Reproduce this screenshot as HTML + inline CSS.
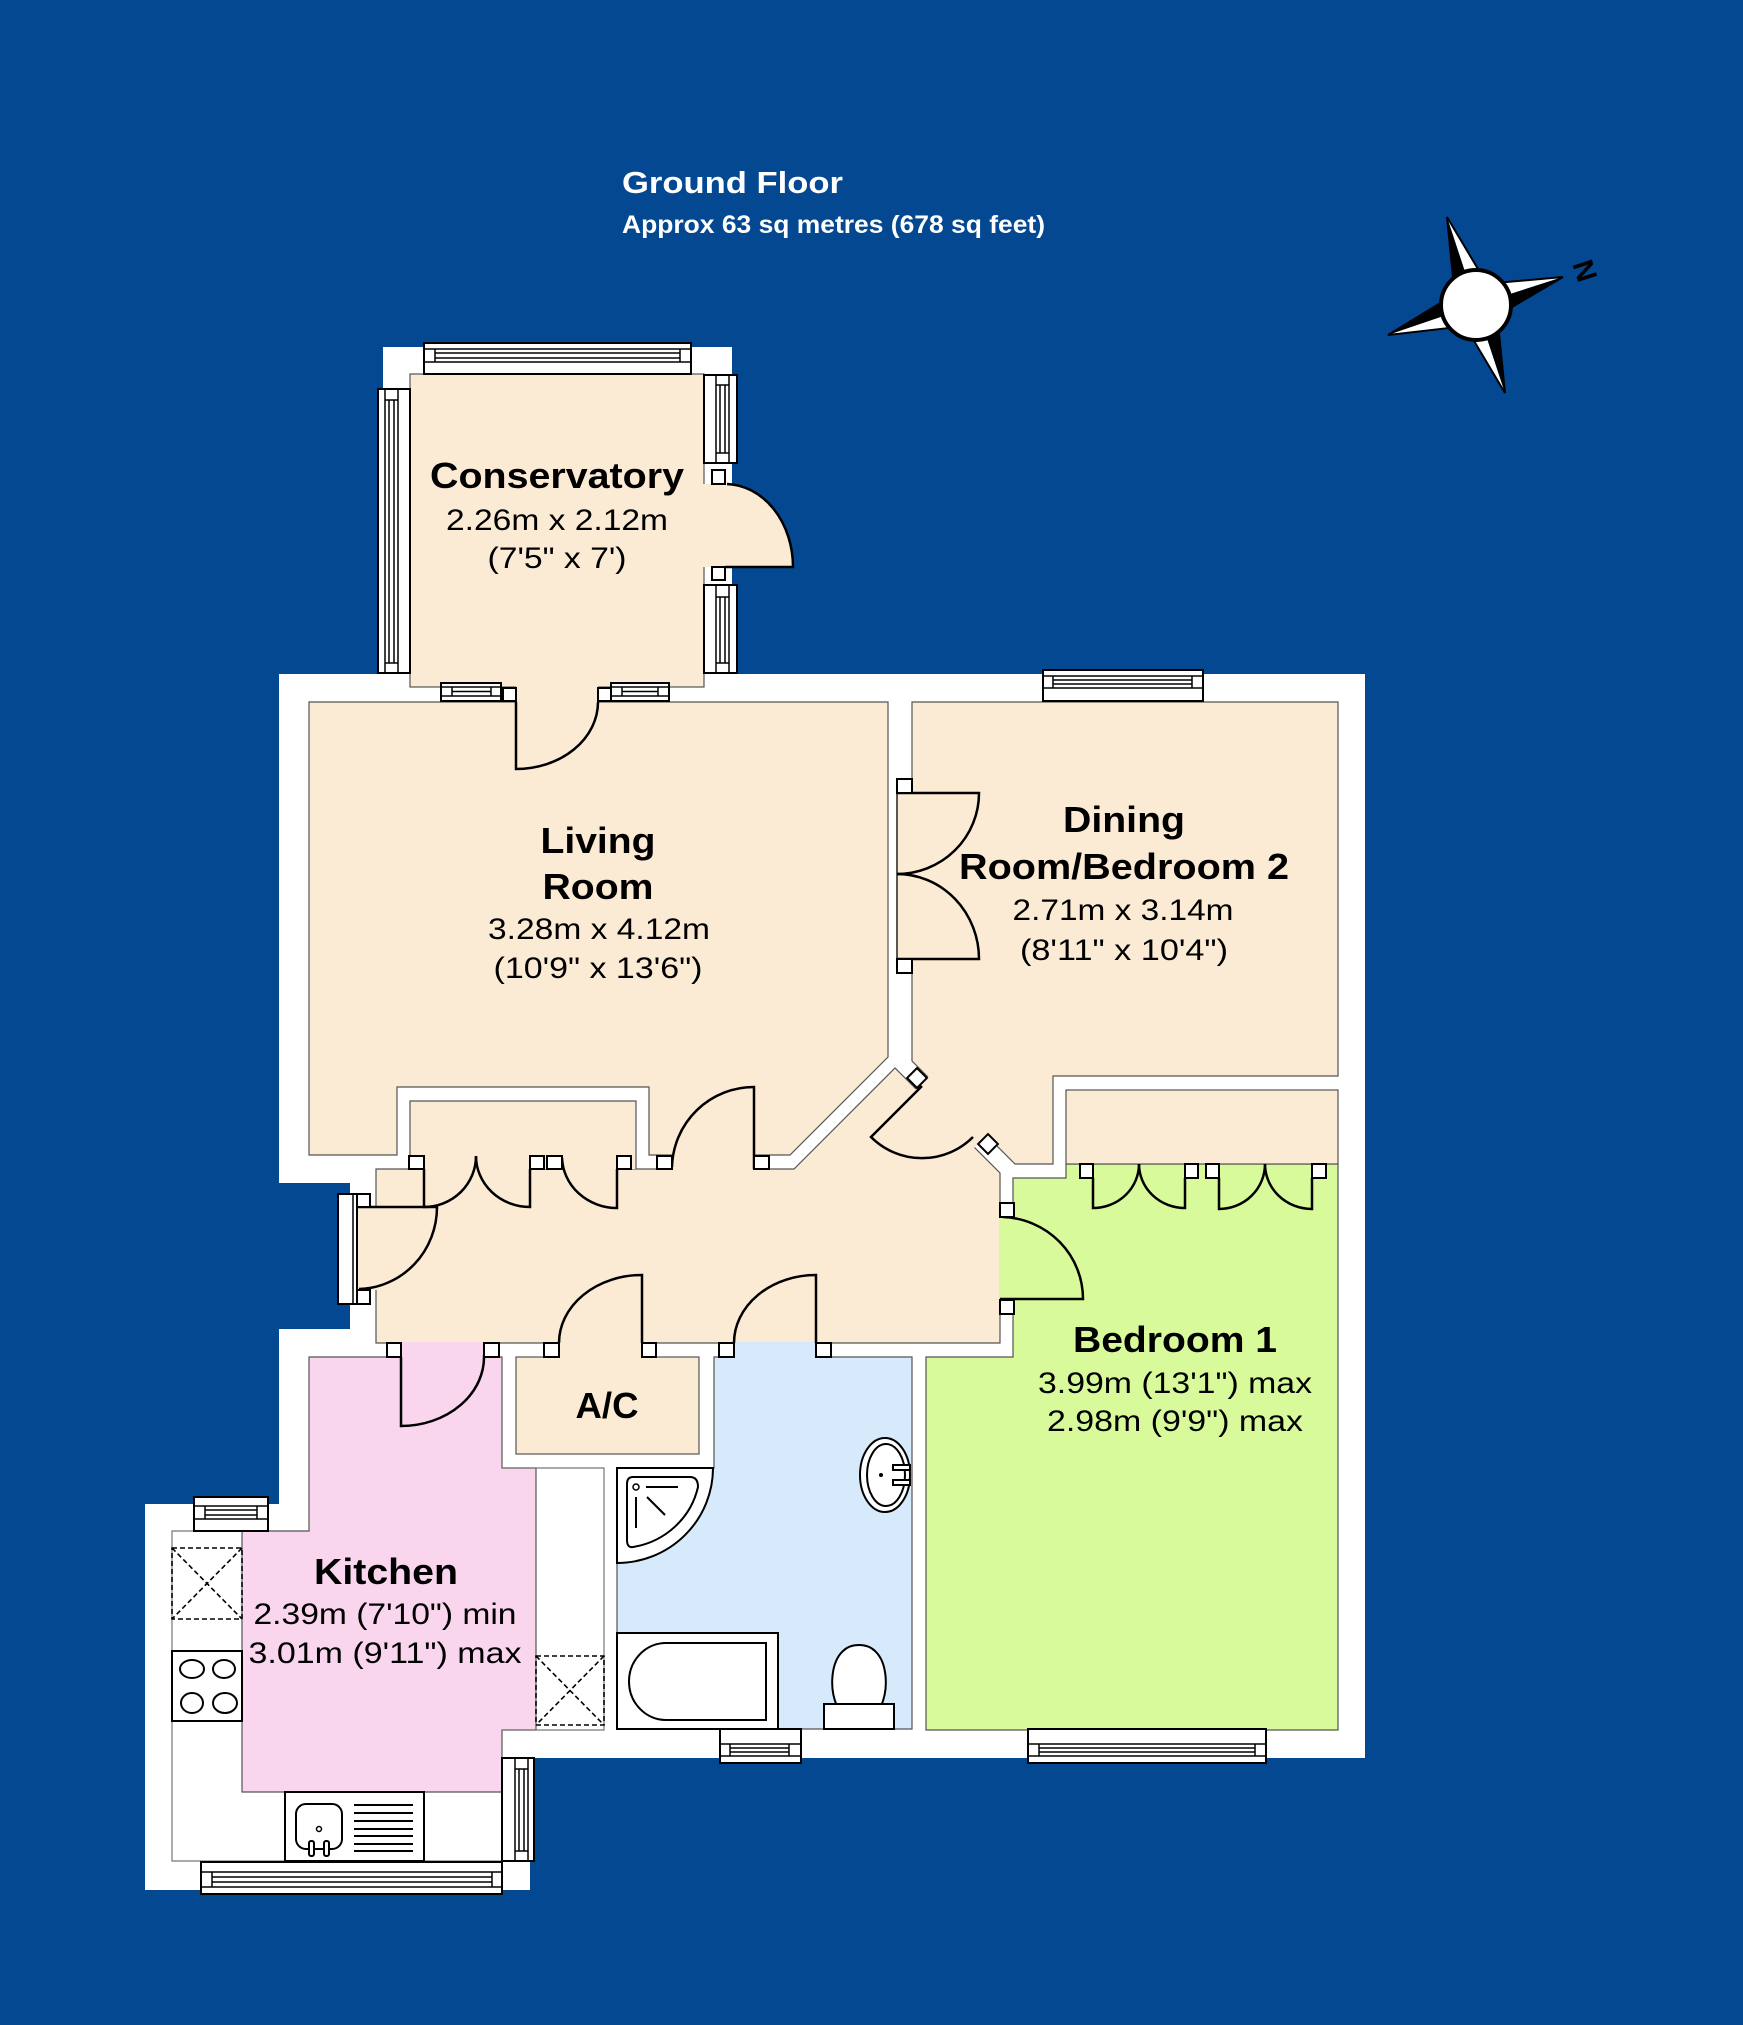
<!DOCTYPE html>
<html><head><meta charset="utf-8"><title>Ground Floor</title><style>
html,body{margin:0;padding:0;background:#054892;}
svg{display:block}
.w{fill:#fff;stroke:#000;stroke-width:2}
.wl{stroke:#000;stroke-width:1.5;fill:none}
.d{stroke:#000;stroke-width:2.5;fill:none}
.j{fill:#fff;stroke:#000;stroke-width:2}
.rm{stroke:#555;stroke-width:1.2}
.t{font-family:"Liberation Sans",Arial,sans-serif;fill:#000}
.tb{font-family:"Liberation Sans",Arial,sans-serif;fill:#000;font-weight:bold;font-size:36px}
.tr{font-family:"Liberation Sans",Arial,sans-serif;fill:#000;font-size:30px}
</style></head><body>
<svg width="1743" height="2025" viewBox="0 0 1743 2025" xmlns="http://www.w3.org/2000/svg">
<rect width="1743" height="2025" fill="#054892"/>

<!-- Title -->
<text x="622" y="193" font-family="Liberation Sans, Arial, sans-serif" font-weight="bold" font-size="31" fill="#fff" textLength="221" lengthAdjust="spacingAndGlyphs">Ground Floor</text>
<text x="622" y="233" font-family="Liberation Sans, Arial, sans-serif" font-weight="bold" font-size="25" fill="#fff" textLength="423" lengthAdjust="spacingAndGlyphs">Approx 63 sq metres (678 sq feet)</text>

<!-- Compass -->
<g stroke-linejoin="miter">
<polygon points="1447,217 1453.9,286 1476,305" fill="#000"/>
<polygon points="1447,217 1482.5,276.6 1476,305" fill="#fff"/>
<polygon points="1447,217 1453.9,286 1476,305 1482.5,276.6" fill="none" stroke="#000" stroke-width="2"/>
<polygon points="1563,277 1495.1,283 1476,305" fill="#fff"/>
<polygon points="1563,277 1504.4,311.5 1476,305" fill="#000"/>
<polygon points="1563,277 1495.1,283 1476,305 1504.4,311.5" fill="none" stroke="#000" stroke-width="2"/>
<polygon points="1505,393 1469.6,333.5 1476,305" fill="#fff"/>
<polygon points="1505,393 1498.1,324.1 1476,305" fill="#000"/>
<polygon points="1505,393 1469.6,333.5 1476,305 1498.1,324.1" fill="none" stroke="#000" stroke-width="2"/>
<polygon points="1388,335 1447.6,298.6 1476,305" fill="#000"/>
<polygon points="1388,335 1456.9,327.1 1476,305" fill="#fff"/>
<polygon points="1388,335 1447.6,298.6 1476,305 1456.9,327.1" fill="none" stroke="#000" stroke-width="2"/>
<circle cx="1476" cy="305" r="35" fill="#fff" stroke="#000" stroke-width="4"/>
<text transform="translate(1584,271) rotate(72)" font-family="Liberation Sans, Arial, sans-serif" font-size="29" font-weight="bold" text-anchor="middle" dominant-baseline="central" fill="#000">N</text>
</g>

<!-- Building silhouettes -->
<rect x="383" y="347" width="349" height="355" fill="#fff"/>
<path d="M279,674 L1365,674 L1365,1758 L530,1758 L530,1890 L145,1890 L145,1504 L279,1504 L279,1329 L350,1329 L350,1183 L279,1183 Z" fill="#fff"/>

<!-- Rooms -->
<rect x="410" y="374" width="294" height="313" fill="#fcebd4" class="rm"/>
<path d="M309,702 L888,702 L888,1057 L790,1155 L649,1155 L649,1087 L397,1087 L397,1155 L309,1155 Z" fill="#fcebd4" class="rm"/>
<path d="M376,1169 L794,1169 L895,1068 L1000,1173 L1000,1343 L376,1343 Z" fill="#fcebd4" class="rm"/>
<rect x="410" y="1101" width="226" height="68" fill="#fcebd4"/>
<path d="M410,1169 L410,1101 L636,1101 L636,1169" fill="none" class="rm"/>
<path d="M912,702 L1338,702 L1338,1076 L1053,1076 L1053,1164 L1015,1164 L912,1061 Z" fill="#fcebd4" class="rm"/>
<path d="M1013,1178 L1066,1178 L1066,1164 L1338,1164 L1338,1730 L926,1730 L926,1357 L1013,1357 Z" fill="#d8fa9b" class="rm"/>
<rect x="1066" y="1090" width="272" height="74" fill="#fcebd4" class="rm"/>
<path d="M309,1357 L502,1357 L502,1468 L536,1468 L536,1730 L502,1730 L502,1792 L242,1792 L242,1531 L309,1531 Z" fill="#f9d5ee" class="rm"/>
<rect x="516" y="1357" width="183" height="97" fill="#fcebd4" class="rm"/>
<path d="M714,1357 L912,1357 L912,1729 L617,1729 L617,1468 L714,1468 Z" fill="#d6eafb" class="rm"/>

<!-- Door openings -->
<rect x="516" y="686" width="82" height="17" fill="#fcebd4"/>
<rect x="703" y="484" width="30" height="83" fill="#fcebd4"/>
<path d="M725,567 L793,567 A68,83 0 0,0 725,484 Z" fill="#fcebd4"/>
<rect x="672" y="1154" width="82" height="16" fill="#fcebd4"/>
<rect x="424" y="1154" width="106" height="16" fill="#fcebd4"/>
<rect x="562" y="1154" width="55" height="16" fill="#fcebd4"/>
<polygon points="930,1075 914,1091 972.5,1149.5 988.5,1133.5" fill="#fcebd4"/>
<rect x="897" y="793" width="16" height="166" fill="#fcebd4"/>
<line x1="897" y1="793" x2="897" y2="959" stroke="#000" stroke-width="1.3"/>
<rect x="356" y="1207" width="21" height="83" fill="#fcebd4"/>
<rect x="999" y="1217" width="15" height="83" fill="#d8fa9b"/>
<rect x="401" y="1342" width="83" height="16" fill="#f9d5ee"/>
<rect x="559" y="1342" width="83" height="16" fill="#fcebd4"/>
<rect x="734" y="1342" width="82" height="16" fill="#d6eafb"/>

<!-- Kitchen counters -->
<g stroke="#777" stroke-width="1.2" fill="none">
<path d="M242,1531 L172,1531 L172,1861 L502,1861"/>
<path d="M502,1468 L604,1468 L604,1730 L502,1730"/>
</g>
<g stroke="#000" stroke-width="1.6" stroke-dasharray="5,3" fill="none">
<rect x="172" y="1548" width="70" height="71"/>
<line x1="172" y1="1548" x2="242" y2="1619"/><line x1="242" y1="1548" x2="172" y2="1619"/>
<rect x="536" y="1656" width="68" height="69"/>
<line x1="536" y1="1656" x2="604" y2="1725"/><line x1="604" y1="1656" x2="536" y2="1725"/>
</g>
<rect x="172" y="1651" width="70" height="70" class="w"/>
<g fill="none" stroke="#000" stroke-width="2">
<ellipse cx="192" cy="1669" rx="12" ry="9"/>
<ellipse cx="224" cy="1669" rx="11" ry="9"/>
<ellipse cx="192" cy="1703" rx="11" ry="10"/>
<ellipse cx="225" cy="1703" rx="12" ry="10"/>
</g>
<rect x="285" y="1792" width="139" height="69" class="w"/>
<rect x="296" y="1804" width="46" height="45" rx="10" class="w"/>
<circle cx="319" cy="1829" r="2.5" fill="none" stroke="#000" stroke-width="1.5"/>
<rect x="309" y="1841" width="5" height="15" rx="2" class="w" stroke-width="1.5"/>
<rect x="324" y="1841" width="5" height="15" rx="2" class="w" stroke-width="1.5"/>
<g stroke="#000" stroke-width="2">
<line x1="354" y1="1805" x2="413" y2="1805"/><line x1="354" y1="1813" x2="413" y2="1813"/>
<line x1="354" y1="1821" x2="413" y2="1821"/><line x1="354" y1="1829" x2="413" y2="1829"/>
<line x1="354" y1="1836" x2="413" y2="1836"/><line x1="354" y1="1844" x2="413" y2="1844"/>
<line x1="354" y1="1851" x2="413" y2="1851"/>
</g>

<!-- Bathroom fixtures -->
<path d="M617,1468 L713,1468 A96,95 0 0,1 617,1563 Z" class="w"/>
<path d="M633,1477 L690,1477 Q698,1477 698,1487 A80,78 0 0,1 633,1547 Q627,1548 627,1540 L627,1484 Q627,1477 633,1477 Z" fill="none" stroke="#000" stroke-width="2"/>
<circle cx="636" cy="1487" r="3" fill="none" stroke="#000" stroke-width="1.5"/>
<g stroke="#000" stroke-width="2">
<line x1="646" y1="1487" x2="678" y2="1487"/>
<line x1="647" y1="1497" x2="665" y2="1515"/>
<line x1="636" y1="1497" x2="636" y2="1528"/>
</g>
<rect x="617" y="1633" width="161" height="96" class="w"/>
<path d="M766,1643 L666,1643 A37,38.5 0 0,0 666,1720 L766,1720 Z" fill="none" stroke="#000" stroke-width="2"/>
<path d="M837,1706 C829,1688 831,1662 843,1651 C851,1643 867,1643 875,1651 C887,1662 889,1688 881,1706 Z" class="w"/>
<rect x="824" y="1704" width="70" height="25" class="w"/>
<ellipse cx="885" cy="1475" rx="25" ry="37" class="w"/>
<ellipse cx="886" cy="1475" rx="19" ry="31" fill="none" stroke="#000" stroke-width="2"/>
<circle cx="881" cy="1475" r="2" fill="#000"/>
<rect x="893" y="1465" width="17" height="5" class="w" stroke-width="1.5"/>
<rect x="893" y="1480" width="17" height="5" class="w" stroke-width="1.5"/>

<!-- Windows (horizontal) -->
<g>
<rect x="424" y="343" width="267" height="31" class="w"/>
<g class="wl"><line x1="424" y1="349" x2="691" y2="349"/><line x1="424" y1="362" x2="691" y2="362"/><line x1="435" y1="349" x2="435" y2="362"/><line x1="680" y1="349" x2="680" y2="362"/><line x1="435" y1="353" x2="680" y2="353"/><line x1="435" y1="358" x2="680" y2="358"/></g>

<rect x="441" y="683" width="60" height="18" class="w"/>
<g class="wl"><line x1="441" y1="687" x2="501" y2="687"/><line x1="441" y1="696" x2="501" y2="696"/><line x1="452" y1="687" x2="452" y2="696"/><line x1="491" y1="687" x2="491" y2="696"/><line x1="452" y1="691.5" x2="491" y2="691.5"/></g>

<rect x="611" y="683" width="58" height="18" class="w"/>
<g class="wl"><line x1="611" y1="687" x2="669" y2="687"/><line x1="611" y1="696" x2="669" y2="696"/><line x1="622" y1="687" x2="622" y2="696"/><line x1="658" y1="687" x2="658" y2="696"/><line x1="622" y1="691.5" x2="658" y2="691.5"/></g>

<rect x="1043" y="670" width="160" height="31" class="w"/>
<g class="wl"><line x1="1043" y1="676" x2="1203" y2="676"/><line x1="1043" y1="688" x2="1203" y2="688"/><line x1="1053" y1="676" x2="1053" y2="688"/><line x1="1192" y1="676" x2="1192" y2="688"/><line x1="1053" y1="680" x2="1192" y2="680"/><line x1="1053" y1="684" x2="1192" y2="684"/></g>

<rect x="194" y="1497" width="74" height="34" class="w"/>
<g class="wl"><line x1="194" y1="1506" x2="268" y2="1506"/><line x1="194" y1="1519" x2="268" y2="1519"/><line x1="205" y1="1506" x2="205" y2="1519"/><line x1="257" y1="1506" x2="257" y2="1519"/><line x1="205" y1="1510" x2="257" y2="1510"/><line x1="205" y1="1515" x2="257" y2="1515"/></g>

<rect x="201" y="1862" width="301" height="32" class="w"/>
<g class="wl"><line x1="201" y1="1872" x2="502" y2="1872"/><line x1="201" y1="1887" x2="502" y2="1887"/><line x1="212" y1="1872" x2="212" y2="1887"/><line x1="492" y1="1872" x2="492" y2="1887"/><line x1="212" y1="1877" x2="492" y2="1877"/><line x1="212" y1="1882" x2="492" y2="1882"/></g>

<rect x="720" y="1729" width="81" height="34" class="w"/>
<g class="wl"><line x1="720" y1="1744" x2="801" y2="1744"/><line x1="720" y1="1756" x2="801" y2="1756"/><line x1="730" y1="1744" x2="730" y2="1756"/><line x1="789" y1="1744" x2="789" y2="1756"/><line x1="730" y1="1748" x2="789" y2="1748"/><line x1="730" y1="1752" x2="789" y2="1752"/></g>

<rect x="1028" y="1729" width="238" height="34" class="w"/>
<g class="wl"><line x1="1028" y1="1744" x2="1266" y2="1744"/><line x1="1028" y1="1756" x2="1266" y2="1756"/><line x1="1039" y1="1744" x2="1039" y2="1756"/><line x1="1255" y1="1744" x2="1255" y2="1756"/><line x1="1039" y1="1748" x2="1255" y2="1748"/><line x1="1039" y1="1752" x2="1255" y2="1752"/></g>
</g>

<!-- Windows (vertical) -->
<g>
<rect x="378" y="389" width="32" height="284" class="w"/>
<g class="wl"><line x1="385" y1="389" x2="385" y2="673"/><line x1="398" y1="389" x2="398" y2="673"/><line x1="385" y1="400" x2="398" y2="400"/><line x1="385" y1="663" x2="398" y2="663"/><line x1="389" y1="400" x2="389" y2="663"/><line x1="394" y1="400" x2="394" y2="663"/></g>

<rect x="704" y="375" width="33" height="88" class="w"/>
<g class="wl"><line x1="716" y1="375" x2="716" y2="463"/><line x1="729" y1="375" x2="729" y2="463"/><line x1="716" y1="385" x2="729" y2="385"/><line x1="716" y1="453" x2="729" y2="453"/><line x1="720" y1="385" x2="720" y2="453"/><line x1="725" y1="385" x2="725" y2="453"/></g>

<rect x="704" y="585" width="33" height="88" class="w"/>
<g class="wl"><line x1="716" y1="585" x2="716" y2="673"/><line x1="729" y1="585" x2="729" y2="673"/><line x1="716" y1="597" x2="729" y2="597"/><line x1="716" y1="663" x2="729" y2="663"/><line x1="720" y1="597" x2="720" y2="663"/><line x1="725" y1="597" x2="725" y2="663"/></g>

<rect x="502" y="1758" width="32" height="103" class="w"/>
<g class="wl"><line x1="515" y1="1758" x2="515" y2="1861"/><line x1="528" y1="1758" x2="528" y2="1861"/><line x1="515" y1="1769" x2="528" y2="1769"/><line x1="515" y1="1851" x2="528" y2="1851"/><line x1="519" y1="1769" x2="519" y2="1851"/><line x1="524" y1="1769" x2="524" y2="1851"/></g>

<rect x="338" y="1194" width="19" height="110" class="w"/>
<line x1="353" y1="1194" x2="353" y2="1304" stroke="#000" stroke-width="1.5"/>
</g>

<!-- Door swings -->
<g class="d">
<path d="M725,567 L793,567 A68,83 0 0,0 727,484"/>
<path d="M516,702 L516,769 A82,67 0 0,0 598,702"/>
<path d="M357,1207 L437,1207 A80,82 0 0,1 359,1289"/>
<path d="M424,1169 L424,1207 A52,51 0 0,0 476,1156"/>
<path d="M530,1169 L530,1207 A54,51 0 0,1 476,1156"/>
<path d="M617,1169 L617,1208 A55,52 0 0,1 562,1158"/>
<path d="M754,1169 L754,1087 A82,82 0 0,0 672,1167"/>
<path d="M922,1086 L871,1137 A72,72 0 0,0 973,1137"/>
<path d="M897,793 L979,793 A82,81 0 0,1 897,874"/>
<path d="M897,959 L979,959 A82,85 0 0,0 897,874"/>
<path d="M1093,1178 L1093,1208 A46,44 0 0,0 1139,1164"/>
<path d="M1185,1178 L1185,1208 A46,44 0 0,1 1139,1164"/>
<path d="M1219,1178 L1219,1209 A46,45 0 0,0 1265,1164"/>
<path d="M1312,1178 L1312,1209 A47,45 0 0,1 1265,1164"/>
<path d="M1000,1299 L1083,1299 A83,82 0 0,0 1003,1217"/>
<path d="M401,1357 L401,1426 A83,69 0 0,0 484,1355"/>
<path d="M642,1343 L642,1275 A83,68 0 0,0 559,1343"/>
<path d="M816,1343 L816,1275 A82,68 0 0,0 734,1343"/>
</g>

<!-- Jambs -->
<g class="j">
<rect x="712" y="470" width="13" height="14"/><rect x="712" y="567" width="13" height="13"/>
<rect x="503" y="688" width="13" height="13"/><rect x="598" y="688" width="13" height="13"/>
<rect x="357" y="1194" width="13" height="13"/><rect x="357" y="1290" width="13" height="14"/>
<rect x="409" y="1156" width="15" height="13"/><rect x="530" y="1156" width="14" height="13"/>
<rect x="547" y="1156" width="15" height="13"/><rect x="617" y="1156" width="14" height="13"/>
<rect x="657" y="1156" width="15" height="13"/><rect x="754" y="1156" width="15" height="13"/>
<rect x="910" y="1071" width="14" height="14" transform="rotate(45 917 1078)"/>
<rect x="981" y="1137" width="14" height="14" transform="rotate(45 988 1144)"/>
<rect x="897" y="779" width="15" height="14"/><rect x="897" y="959" width="15" height="14"/>
<rect x="1080" y="1164" width="13" height="14"/><rect x="1185" y="1164" width="13" height="14"/>
<rect x="1206" y="1164" width="13" height="14"/><rect x="1312" y="1164" width="14" height="14"/>
<rect x="1000" y="1203" width="14" height="14"/><rect x="1000" y="1300" width="14" height="14"/>
<rect x="387" y="1343" width="14" height="14"/><rect x="484" y="1343" width="15" height="14"/>
<rect x="544" y="1343" width="15" height="14"/><rect x="642" y="1343" width="14" height="14"/>
<rect x="719" y="1343" width="15" height="14"/><rect x="816" y="1343" width="15" height="14"/>
</g>

<!-- Labels -->
<text class="tb" x="557" y="488" text-anchor="middle" textLength="254" lengthAdjust="spacingAndGlyphs">Conservatory</text>
<text class="tr" x="557" y="530" text-anchor="middle" textLength="222" lengthAdjust="spacingAndGlyphs">2.26m x 2.12m</text>
<text class="tr" x="557" y="568" text-anchor="middle" textLength="139" lengthAdjust="spacingAndGlyphs">(7'5" x 7')</text>

<text class="tb" x="598" y="853" text-anchor="middle" textLength="115" lengthAdjust="spacingAndGlyphs">Living</text>
<text class="tb" x="598" y="899" text-anchor="middle" textLength="111" lengthAdjust="spacingAndGlyphs">Room</text>
<text class="tr" x="599" y="939" text-anchor="middle" textLength="222" lengthAdjust="spacingAndGlyphs">3.28m x 4.12m</text>
<text class="tr" x="598" y="978" text-anchor="middle" textLength="209" lengthAdjust="spacingAndGlyphs">(10'9" x 13'6")</text>

<text class="tb" x="1124" y="832" text-anchor="middle" textLength="122" lengthAdjust="spacingAndGlyphs">Dining</text>
<text class="tb" x="1124" y="879" text-anchor="middle" textLength="330" lengthAdjust="spacingAndGlyphs">Room/Bedroom 2</text>
<text class="tr" x="1123" y="920" text-anchor="middle" textLength="221" lengthAdjust="spacingAndGlyphs">2.71m x 3.14m</text>
<text class="tr" x="1124" y="960" text-anchor="middle" textLength="208" lengthAdjust="spacingAndGlyphs">(8'11" x 10'4")</text>

<text class="tb" x="1175" y="1352" text-anchor="middle" textLength="204" lengthAdjust="spacingAndGlyphs">Bedroom 1</text>
<text class="tr" x="1175" y="1393" text-anchor="middle" textLength="274" lengthAdjust="spacingAndGlyphs">3.99m (13'1") max</text>
<text class="tr" x="1175" y="1431" text-anchor="middle" textLength="256" lengthAdjust="spacingAndGlyphs">2.98m (9'9") max</text>

<text class="tb" x="386" y="1584" text-anchor="middle" textLength="144" lengthAdjust="spacingAndGlyphs">Kitchen</text>
<text class="tr" x="385" y="1624" text-anchor="middle" textLength="263" lengthAdjust="spacingAndGlyphs">2.39m (7'10") min</text>
<text class="tr" x="385" y="1663" text-anchor="middle" textLength="273" lengthAdjust="spacingAndGlyphs">3.01m (9'11") max</text>

<text class="tb" x="607" y="1418" text-anchor="middle" textLength="63" lengthAdjust="spacingAndGlyphs">A/C</text>
</svg>
</body></html>
